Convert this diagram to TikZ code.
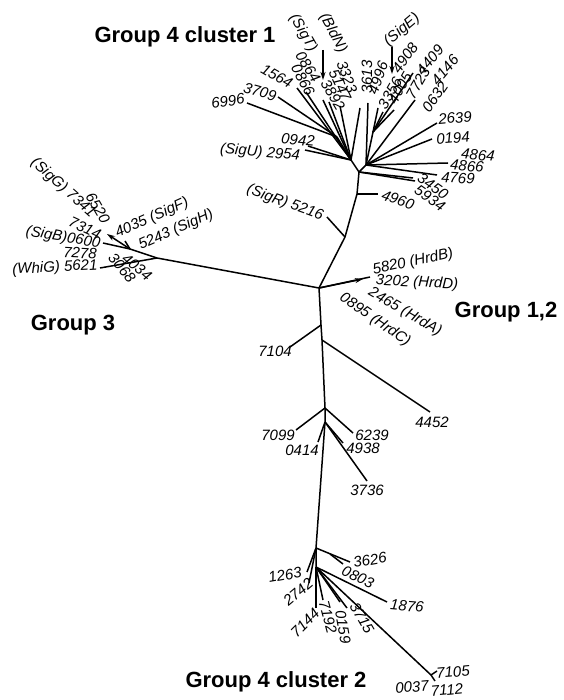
\documentclass[tikz,border=0pt]{standalone}
\usepackage{fontspec}
\setmainfont{Liberation Sans}
\usetikzlibrary{arrows.meta}
\begin{document}
\begin{tikzpicture}[x=1pt,y=-1pt,
  br/.style={line width=1.5pt},
  arr/.style={line width=1.5pt,-{Stealth[length=8pt,width=5pt]}},
  lab/.style={font=\fontsize{15}{17}\selectfont\itshape, inner sep=0pt},
  grp/.style={font=\fontsize{22}{24}\selectfont\bfseries, inner sep=0pt}]
\useasboundingbox (0,0) rectangle (563,700);

% ---------- internal nodes ----------
\coordinate (C)  at (319,288);
\coordinate (T3) at (345,237);
\coordinate (T2) at (357,194);
\coordinate (T1) at (359,172);
\coordinate (HL) at (351,160);
\coordinate (L1) at (337,137);
\coordinate (HR) at (366,165);
\coordinate (HU) at (373,132);
\coordinate (D1) at (321,325);
\coordinate (D2) at (322,340);
\coordinate (D3) at (325,408);
\coordinate (D4) at (325,422);
\coordinate (E)  at (316,548);
\coordinate (E2) at (316,567);
\coordinate (G3) at (157,258);
\coordinate (S1) at (130,249);

% ---------- leaf tips ----------
% group 4 cluster 1
\coordinate (a6996) at (247,103);
\coordinate (a3709) at (278,97);
\coordinate (a1564) at (297,88);
\coordinate (a0866) at (306,92);
\coordinate (a3892) at (323,100);
\coordinate (a5147) at (329,102);
\coordinate (a3323) at (340,106);
\coordinate (a3323b) at (360,108);
\coordinate (a2954) at (305,150);
\coordinate (a0942) at (308,146);
\coordinate (a3613) at (368,103);
\coordinate (a4996) at (378,108);
\coordinate (a3356) at (383,112);
\coordinate (a4005) at (394,110);
\coordinate (a4409) at (413,73);
\coordinate (a0632) at (415,100);
\coordinate (a2639) at (437,123);
\coordinate (a0194) at (432,139);
\coordinate (a4864) at (448,163);
\coordinate (a4769) at (437,175);
\coordinate (a3450) at (413,178);
\coordinate (a5934) at (415,181);
\coordinate (a5216) at (327,217);
\coordinate (a4960) at (378,194);
\coordinate (sigTa) at (323,50);
\coordinate (sigTb) at (323,80);
\coordinate (sigEa) at (392,47);
\coordinate (sigEb) at (392,74);
% group 1,2
\coordinate (hrd)  at (370,277);
\coordinate (hrdA) at (363,279);
% group 3
\coordinate (b7314) at (107,234);
\coordinate (b0600) at (103,243);
\coordinate (b5243) at (125,241);
\coordinate (b5621) at (100,268);
% middle part
\coordinate (c7104) at (290,347);
\coordinate (c4452) at (430,412);
\coordinate (c7099) at (296,430);
\coordinate (c6239) at (353,433);
\coordinate (c0414) at (318,442);
\coordinate (c4938) at (343,443);
\coordinate (c3736) at (367,481);
% group 4 cluster 2
\coordinate (d3626) at (350,562);
\coordinate (d0803a) at (330,554);
\coordinate (d0803) at (343,564);
\coordinate (d1263) at (307,572);
\coordinate (d2742) at (309,583);
\coordinate (d7144) at (316,608);
\coordinate (d7192) at (323,600);
\coordinate (d0159) at (340,602);
\coordinate (d3715) at (347,608);
\coordinate (d1876) at (387,602);
\coordinate (dL)    at (431,675);
\coordinate (d7105) at (437,671);
\coordinate (d7112) at (435,681);

% ---------- branches ----------
\draw[br] (C) -- (T3) -- (T2) -- (T1);
\draw[br] (T1) -- (HL);
\draw[br] (T1) -- (HR);
\draw[br] (T3) -- (a5216);
\draw[br] (T2) -- (a4960);
\draw[br] (HL) -- (L1);
\foreach \t in {a6996,a3709} \draw[br] (L1) -- (\t);
\foreach \t in {a1564,a0866,a3892,a5147,a3323,a3323b,a2954,a0942}
  \draw[br] (HL) -- (\t);
\foreach \t in {a3613,HU,a0632,a2639,a0194,a4864,a4769}
  \draw[br] (HR) -- (\t);
\foreach \t in {a4996,a3356,a4005,a4409} \draw[br] (HU) -- (\t);
\foreach \t in {a3450,a5934} \draw[br] (T1) -- (\t);
\draw[arr] (sigTa) -- (sigTb);
\draw[arr] (sigEa) -- (sigEb);

\draw[br] (C) -- (hrd);
\draw[arr] (C) -- (hrdA);

\draw[br] (C) -- (G3) -- (S1);
\draw[arr] (S1) -- (b7314);
\draw[br] (S1) -- (b0600);
\draw[br] (S1) -- (b5243);
\draw[br] (G3) -- (b5621);

\draw[br] (C) -- (D1) -- (D2) -- (D3) -- (D4) -- (E) -- (E2);
\draw[br] (D1) -- (c7104);
\draw[br] (D2) -- (c4452);
\draw[br] (D3) -- (c7099);
\draw[br] (D3) -- (c6239);
\foreach \t in {c0414,c4938,c3736} \draw[br] (D4) -- (\t);

\draw[br] (E) -- (d3626);
\draw[br] (d0803a) -- (d0803);
\draw[br] (E) -- (d1263);
\draw[br] (E) -- (d2742);
\foreach \t in {d7144,d7192,d0159,d3715,d1876,dL} \draw[br] (E2) -- (\t);
\draw[br] (dL) -- (d7105);
\draw[br] (dL) -- (d7112);

% ---------- leaf labels ----------
\node[lab,rotate=-60] (nSigT) at (303,33) {(SigT)};
\node[lab,rotate=-62] (nBldN) at (333,33) {(BldN)};
\node[lab,rotate=-58] (n0864) at (308,67) {0864};
\node[lab,rotate=-62] (n0866) at (303,80) {0866};
\node[lab,rotate=-60] (n3892) at (333,95) {3892};
\node[lab,rotate=-65] (n5147) at (340,85) {5147};
\node[lab,rotate=-70] (n3323) at (347,77) {3323};
\node[lab,rotate=90]  (n3613) at (367,77) {3613};
\node[lab,rotate=70]  (n4996) at (378,78) {4996};
\node[lab,rotate=60]  (n3356) at (390,93) {3356};
\node[lab,rotate=55]  (n4908) at (405,58) {4908};
\node[lab,rotate=60]  (n4005) at (400,88) {4005};
\node[lab,rotate=50]  (n4409) at (430,60) {4409};
\node[lab,rotate=60]  (n7723) at (418,83) {7723};
\node[lab,rotate=50]  (n4146) at (445,70) {4146};
\node[lab,rotate=55]  (n0632) at (435,97) {0632};
\node[lab,rotate=40]  (nSigE) at (402,30) {(SigE)};
\node[lab,rotate=8]   (n6996) at (228,101) {6996};
\node[lab,rotate=-15] (n3709) at (260,92) {3709};
\node[lab,rotate=-30] (n1564) at (277,76) {1564};
\node[lab,rotate=-5]  (n0942) at (298,140) {0942};
\node[lab,rotate=-5]  (n2954) at (260,153) {(SigU) 2954};
\node[lab,rotate=-20] (n5216) at (285,203) {(SigR) 5216};
\node[lab,rotate=-20] (n4960) at (398,200) {4960};
\node[lab,rotate=5]   (n2639) at (455,118) {2639};
\node[lab,rotate=5]   (n0194) at (453,138) {0194};
\node[lab,rotate=-5]  (n4864) at (478,155) {4864};
\node[lab,rotate=-5]  (n4866) at (467,166) {4866};
\node[lab,rotate=-3]  (n4769) at (458,178) {4769};
\node[lab,rotate=-35] (n3450) at (433,186) {3450};
\node[lab,rotate=-35] (n5934) at (430,198) {5934};

\node[lab,rotate=12]  (nHrdB) at (413,262) {5820 (HrdB)};
\node[lab,rotate=-3]  (nHrdD) at (417,283) {3202 (HrdD)};
\node[lab,rotate=-30] (nHrdA) at (405,312) {2465 (HrdA)};
\node[lab,rotate=-35] (nHrdC) at (375,320) {0895 (HrdC)};

\node[lab,rotate=-42] (nSigG) at (63,188) {(SigG) 7341};
\node[lab,rotate=-60] (n6520) at (98,208) {6520};
\node[lab,rotate=-25] (n7314) at (85,228) {7314};
\node[lab,rotate=-10] (nSigB) at (63,238) {(SigB)0600};
\node[lab,rotate=-3]  (n7278) at (80,253) {7278};
\node[lab,rotate=3]   (nWhiG) at (55,268) {(WhiG) 5621};
\node[lab,rotate=24]  (nSigF) at (152,218) {4035 (SigF)};
\node[lab,rotate=24]  (nSigH) at (176,230) {5243 (SigH)};
\node[lab,rotate=-40] (n4034) at (137,267) {4034};
\node[lab,rotate=-50] (n3068) at (122,268) {3068};

\node[lab] (n7104) at (275,351) {7104};
\node[lab] (n4452) at (432,422) {4452};
\node[lab] (n7099) at (278,435) {7099};
\node[lab] (n6239) at (372,435) {6239};
\node[lab] (n0414) at (302,450) {0414};
\node[lab] (n4938) at (363,448) {4938};
\node[lab] (n3736) at (367,490) {3736};

\node[lab,rotate=10]  (n3626) at (370,560) {3626};
\node[lab,rotate=-25] (n0803) at (358,577) {0803};
\node[lab,rotate=-5]  (n1876) at (407,606) {1876};
\node[lab,rotate=10]  (n1263) at (285,575) {1263};
\node[lab,rotate=40]  (n2742) at (298,592) {2742};
\node[lab,rotate=45]  (n7144) at (305,623) {7144};
\node[lab,rotate=-75] (n7192) at (328,617) {7192};
\node[lab,rotate=-80] (n0159) at (343,627) {0159};
\node[lab,rotate=-60] (n3715) at (362,618) {3715};
\node[lab,rotate=5]   (n7105) at (453,672) {7105};
\node[lab,rotate=5]   (n7112) at (447,690) {7112};
\node[lab,rotate=5]   (n0037) at (412,687) {0037};

% ---------- group titles ----------
\node[grp] (g41) at (185,37)  {Group 4 cluster 1};
\node[grp] (g3)  at (73,325)  {Group 3};
\node[grp] (g12) at (506,312) {Group 1,2};
\node[grp] (g42) at (276,682) {Group 4 cluster 2};
\end{tikzpicture}
\end{document}
